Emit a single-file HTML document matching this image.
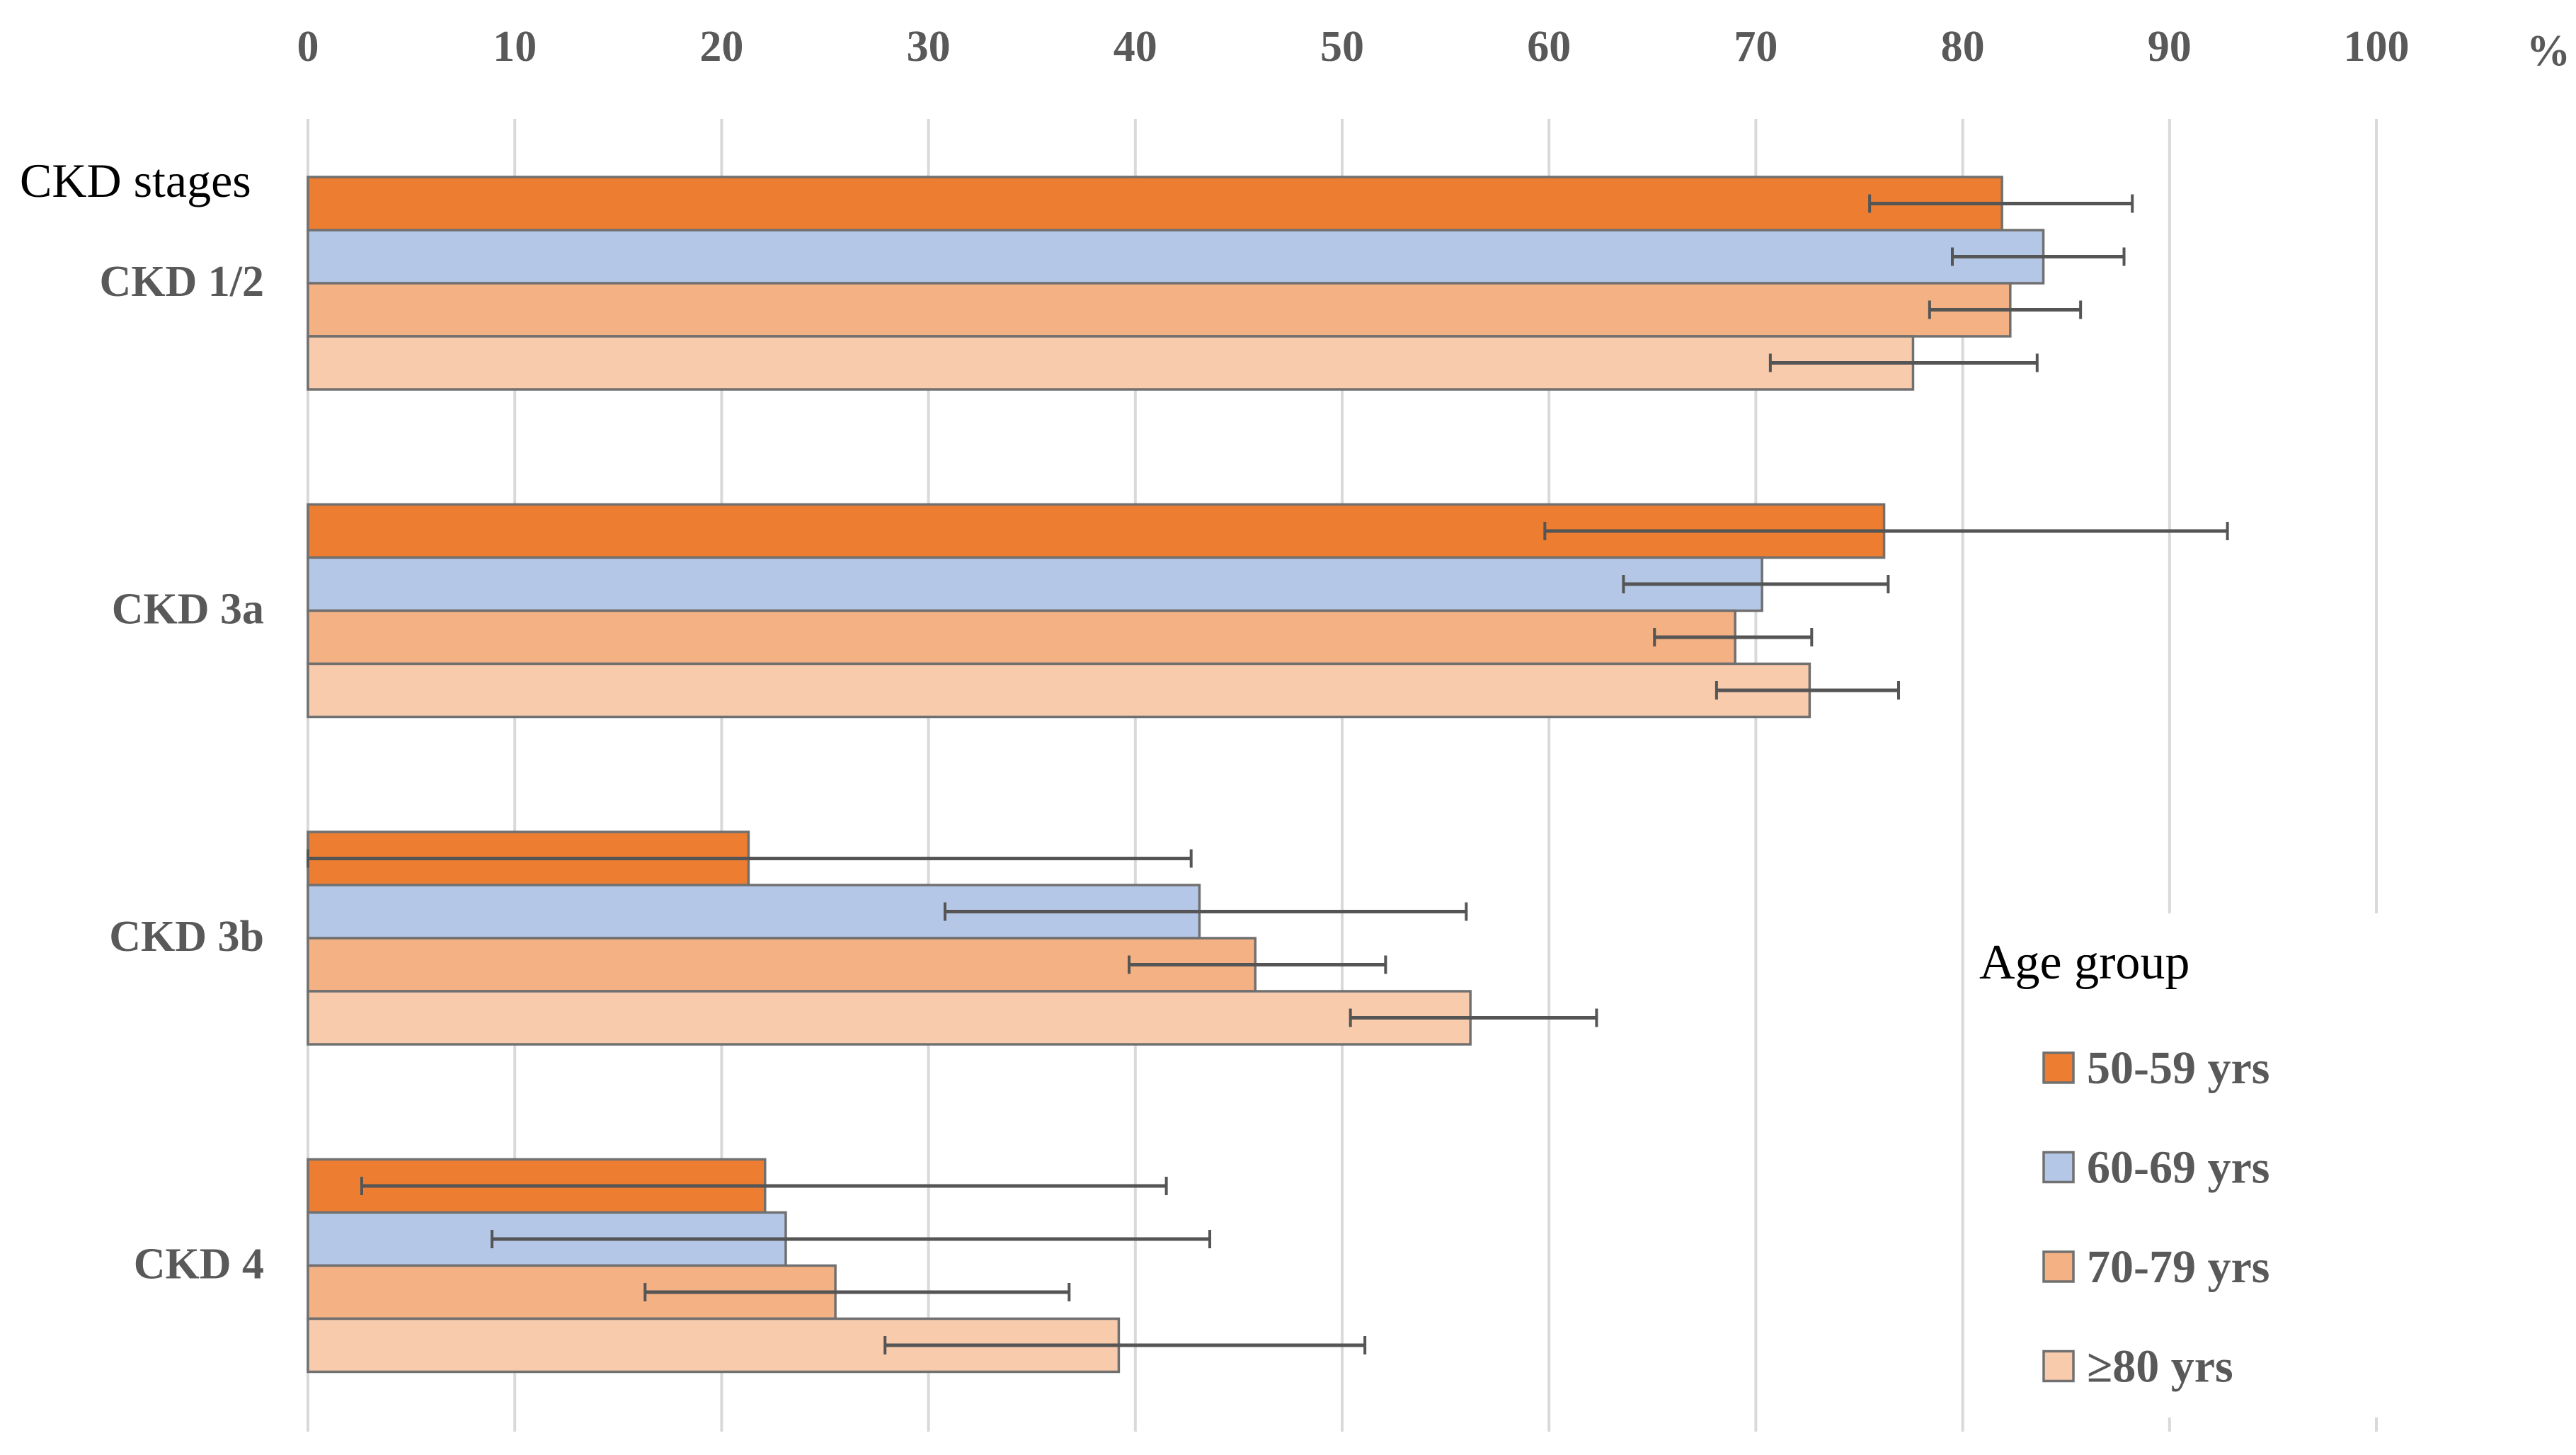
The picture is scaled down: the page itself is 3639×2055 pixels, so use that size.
<!DOCTYPE html>
<html><head><meta charset="utf-8"><style>
html,body{margin:0;padding:0;background:#fff;}
svg{display:block;}
</style></head><body>
<svg id="chart" width="3639" height="2055" viewBox="0 0 3639 2055" xmlns="http://www.w3.org/2000/svg" font-family="'Liberation Serif', serif">
<g id="grid"></g>
<g id="ticks"></g>
<g id="bars"></g>
<g id="errs"></g>
<g id="cats"></g>
<text x="3600" y="92" text-anchor="middle" font-size="62" font-weight="bold" fill="#595959">%</text>
<text x="28" y="278" font-size="68" fill="#000">CKD stages</text>
<g id="legend">
<rect x="2787" y="1290" width="640" height="712" fill="#fff"/>
<text x="2796" y="1382" font-size="70" fill="#000">Age group</text>
</g>
</svg>
<script>
const categories = ["CKD 1/2","CKD 3a","CKD 3b","CKD 4"];
const seriesNames = ["50-59 yrs","60-69 yrs","70-79 yrs","\u226580 yrs"];
const v50 = [81.9, 76.2, 21.3, 22.1];
const v60 = [83.9, 70.3, 43.1, 23.1];
const v70 = [82.3, 69.0, 45.8, 25.5];
const v80 = [77.6, 72.6, 56.2, 39.2];
const lo50 = [75.5, 59.8, 0.0, 2.6];
const hi50 = [88.2, 92.8, 42.7, 41.5];
const lo60 = [79.5, 63.6, 30.8, 8.9];
const hi60 = [87.8, 76.4, 56.0, 43.6];
const lo70 = [78.4, 65.1, 39.7, 16.3];
const hi70 = [85.7, 72.7, 52.1, 36.8];
const lo80 = [70.7, 68.1, 50.4, 27.9];
const hi80 = [83.6, 76.9, 62.3, 51.1];
const tickValues = [0,10,20,30,40,50,60,70,80,90,100];

const NS = "http://www.w3.org/2000/svg";
const X0 = 435, PXU = 29.22;
const x = v => X0 + v * PXU;
const groupTop = i => 250 + i * 462.5;
const BH = 75;
const colors = ["#ED7D31","#B4C7E7","#F4B183","#F8CBAD"];
const vals = [v50,v60,v70,v80], los=[lo50,lo60,lo70,lo80], his=[hi50,hi60,hi70,hi80];
function mk(tag, attrs, parent){const e=document.createElementNS(NS,tag);for(const k in attrs)e.setAttribute(k,attrs[k]);parent.appendChild(e);return e;}
const grid=document.getElementById('grid'), ticks=document.getElementById('ticks');
tickValues.forEach(t=>{
  const l=mk('line',{x1:x(t),x2:x(t),y1:168,y2:2022,stroke:'#d9d9d9','stroke-width':4},grid);
  
  
  const tx=mk('text',{x:x(t),y:86,'text-anchor':'middle','font-size':62,'font-weight':'bold',fill:'#595959'},ticks);
  tx.textContent=t;
  
  
});
const bars=document.getElementById('bars'), errs=document.getElementById('errs'), cats=document.getElementById('cats');
categories.forEach((c,i)=>{
  const ct=mk('text',{x:373,y:groupTop(i)+BH*2+18,'text-anchor':'end','font-size':62,'font-weight':'bold',fill:'#595959'},cats);
  ct.textContent=c;
  
  
  for(let s=0;s<4;s++){
    const y=groupTop(i)+s*BH;
    const r=mk('rect',{x:X0,y:y,width:x(vals[s][i])-X0,height:BH,fill:colors[s],stroke:'#707070','stroke-width':3.5},bars);
    
    
  }
  for(let s=0;s<4;s++){
    const cy=groupTop(i)+s*BH+BH/2;
    const g=mk('g',{stroke:'#555','stroke-width':5},errs);
    
    
    mk('line',{x1:x(los[s][i]),x2:x(his[s][i]),y1:cy,y2:cy},g);
    mk('line',{x1:x(los[s][i]),x2:x(los[s][i]),y1:cy-13,y2:cy+13,'stroke-width':4},g);
    mk('line',{x1:x(his[s][i]),x2:x(his[s][i]),y1:cy-13,y2:cy+13,'stroke-width':4},g);
  }
});
const leg=document.getElementById('legend');
seriesNames.forEach((n,s)=>{
  const cy=1508+s*140.5;
  const g=mk('g',{},leg);
  
  
  mk('rect',{x:2887,y:cy-21,width:42,height:42,fill:colors[s],stroke:'#707070','stroke-width':3.5},g);
  const t=mk('text',{x:2948,y:cy+22,'font-size':66,'font-weight':'bold',fill:'#595959'},g);
  t.textContent=n;
});
</script>
</body></html>
